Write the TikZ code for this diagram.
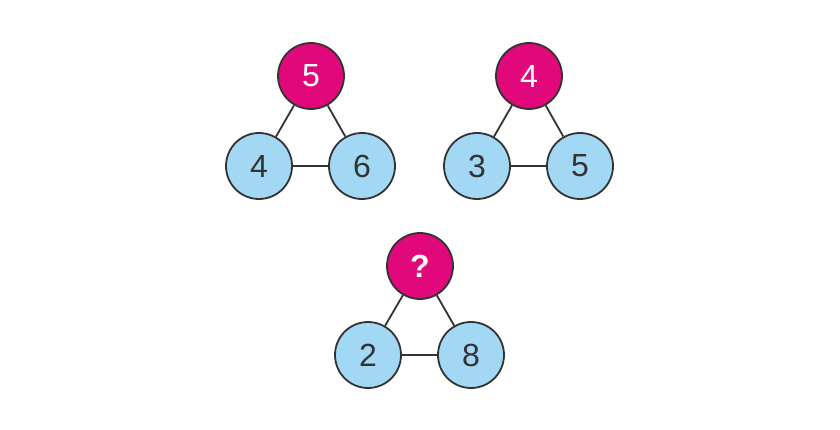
\documentclass[tikz,border=0pt]{standalone}
\usepackage{fontspec}
\setmainfont{Liberation Sans}
\usepackage{tikz}
\definecolor{topmag}{RGB}{224,8,122}
\definecolor{leafblue}{RGB}{163,216,244}
\definecolor{rim}{RGB}{51,51,51}

\begin{document}
\begin{tikzpicture}[x=1pt, y=-1pt, every node/.style={font=\fontsize{32}{36}\selectfont},
	ball/.style={circle, draw=rim, line width=1.8pt, minimum size=66pt, inner sep=0pt},
	apex/.style={ball, fill=topmag, text=white},
	leaf/.style={ball, fill=leafblue, text=rim},
	link/.style={draw=rim, line width=1.8pt}]
	\useasboundingbox (0,0) rectangle (840,430);
	% first triangle
	\node[apex] (T1) at (311,76) {5};
	\node[leaf] (L1) at (259,166) {4};
	\node[leaf] (R1) at (362,166) {6};
	\draw[link] (T1) -- (L1);
	\draw[link] (T1) -- (R1);
	\draw[link] (L1) -- (R1);
	% second triangle
	\node[apex] (T2) at (529,76) {4};
	\node[leaf] (L2) at (477,166) {3};
	\node[leaf] (R2) at (580,166) {5};
	\draw[link] (T2) -- (L2);
	\draw[link] (T2) -- (R2);
	\draw[link] (L2) -- (R2);
	% third triangle
	\node[apex] (T3) at (420,266) {\textbf{?}};
	\node[leaf] (L3) at (368,355) {2};
	\node[leaf] (R3) at (471,355) {8};
	\draw[link] (T3) -- (L3);
	\draw[link] (T3) -- (R3);
	\draw[link] (L3) -- (R3);
\end{tikzpicture}
\end{document}
